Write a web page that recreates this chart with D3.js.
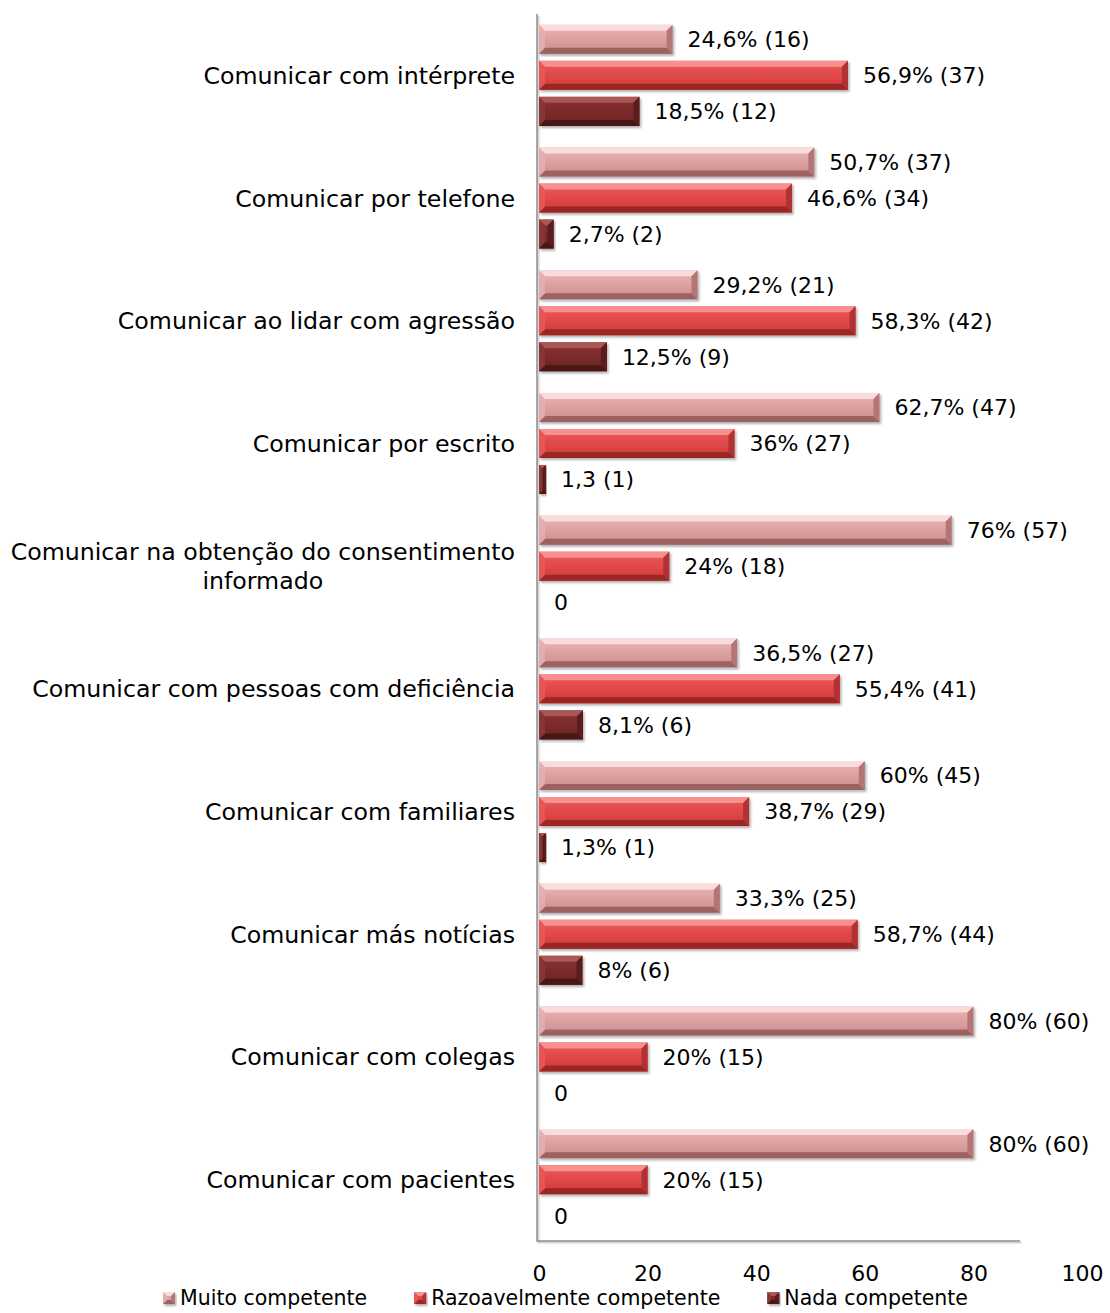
<!DOCTYPE html>
<html>
<head>
<meta charset="utf-8">
<script src="https://cdn.jsdelivr.net/npm/d3@7"></script>
<style>
  body { margin: 0; background: #fff; }
  text { font-family: "DejaVu Sans", sans-serif; fill: #000; }
</style>
</head>
<body>
<svg id="chart" width="1110" height="1313"></svg>
<script>
// categories, top to bottom
const categories = [
  'Comunicar com intérprete',
  'Comunicar por telefone',
  'Comunicar ao lidar com agressão',
  'Comunicar por escrito',
  'Comunicar na obtenção do consentimento|informado',
  'Comunicar com pessoas com deficiência',
  'Comunicar com familiares',
  'Comunicar más notícias',
  'Comunicar com colegas',
  'Comunicar com pacientes'
]
const seriesNames = ['Muito competente', 'Razoavelmente competente', 'Nada competente']

const muito = [24.6, 50.7, 29.2, 62.7, 76, 36.5, 60, 33.3, 80, 80]
const razoavel = [56.9, 46.6, 58.3, 36, 24, 55.4, 38.7, 58.7, 20, 20]
const nada = [18.5, 2.7, 12.5, 1.3, 0, 8.1, 1.3, 8, 0, 0]

const muitoLabels = ['24,6% (16)', '50,7% (37)', '29,2% (21)', '62,7% (47)', '76% (57)', '36,5% (27)', '60% (45)', '33,3% (25)', '80% (60)', '80% (60)']
const razoavelLabels = ['56,9% (37)', '46,6% (34)', '58,3% (42)', '36% (27)', '24% (18)', '55,4% (41)', '38,7% (29)', '58,7% (44)', '20% (15)', '20% (15)']
const nadaLabels = ['18,5% (12)', '2,7% (2)', '12,5% (9)', '1,3 (1)', '0', '8,1% (6)', '1,3% (1)', '8% (6)', '0', '0']

const xTicks = [0, 20, 40, 60, 80, 100]

const values = [muito, razoavel, nada]
const labels = [muitoLabels, razoavelLabels, nadaLabels]

const palettes = [
  { face1: '#ebb6b6', face2: '#cc8c8c', top: '#fadcdc', bottom: '#9c6262', left: '#e6b0b0', right: '#b27676' },
  { face1: '#ee5a5a', face2: '#d23838', top: '#f89090', bottom: '#9a2626', left: '#ea5858', right: '#b03030' },
  { face1: '#883434', face2: '#6c2222', top: '#aa5656', bottom: '#4a1414', left: '#8c3838', right: '#5a1a1a' }
]

const svg = d3.select('#chart')
const plotLeft = 539, plotRight = 1082, plotTop = 14, plotBottom = 1241

const x = d3.scaleLinear().domain([0, 100]).range([plotLeft, plotRight])
const y = d3.scaleBand().domain(d3.range(categories.length)).range([plotTop, plotBottom])
const ySub = d3.scaleBand().domain(d3.range(3)).range([0, y.bandwidth()])
  .paddingInner(7 / 36).paddingOuter(0.3)

const defs = svg.append('defs')
const shadow = defs.append('filter').attr('id', 'shadow')
  .attr('x', '-5%').attr('y', '-20%').attr('width', '115%').attr('height', '160%')
shadow.append('feDropShadow').attr('dx', 1.5).attr('dy', 2).attr('stdDeviation', 1.2)
  .attr('flood-color', '#000').attr('flood-opacity', 0.3)

palettes.forEach((p, i) => {
  const g = defs.append('linearGradient').attr('id', 'face' + i)
    .attr('x1', 0).attr('y1', 0).attr('x2', 0).attr('y2', 1)
  g.append('stop').attr('offset', '0%').attr('stop-color', p.face1)
  g.append('stop').attr('offset', '100%').attr('stop-color', p.face2)
})

// bevelled bar
function bevelBar(sel, x0, y0, w, h, p, i) {
  const b = Math.min(6, w / 2, h / 3)
  const g = sel.append('g').attr('filter', 'url(#shadow)')
  g.append('rect').attr('x', x0).attr('y', y0).attr('width', w).attr('height', h)
    .attr('fill', `url(#face${i})`)
  const x1 = x0 + w, y1 = y0 + h
  g.append('path').attr('fill', p.top)
    .attr('d', `M${x0},${y0}L${x1},${y0}L${x1 - b},${y0 + b}L${x0 + b},${y0 + b}Z`)
  g.append('path').attr('fill', p.bottom)
    .attr('d', `M${x0},${y1}L${x1},${y1}L${x1 - b},${y1 - b}L${x0 + b},${y1 - b}Z`)
  g.append('path').attr('fill', p.left).attr('opacity', 0.8)
    .attr('d', `M${x0},${y0}L${x0 + b},${y0 + b}L${x0 + b},${y1 - b}L${x0},${y1}Z`)
  g.append('path').attr('fill', p.right)
    .attr('d', `M${x1},${y0}L${x1 - b},${y0 + b}L${x1 - b},${y1 - b}L${x1},${y1}Z`)
}

// axis lines (with a soft offset line as shadow)
const axisG = svg.append('g')
const ax = plotLeft - 2
axisG.append('path').attr('fill', 'none').attr('stroke', '#d4d4d4').attr('stroke-width', 2)
  .attr('d', `M${ax + 1.5},${plotTop + 2}V${plotBottom + 1.5}H1021.5`)
axisG.append('path').attr('fill', 'none').attr('stroke', '#8c8c8c').attr('stroke-width', 1.5)
  .attr('d', `M${ax},${plotTop}V${plotBottom}H1020`)

// bars
values.forEach((vals, s) => {
  const layer = svg.append('g').attr('class', 'series' + s)
  vals.forEach((v, c) => {
    const yy = y(c) + ySub(s)
    if (v > 0) bevelBar(layer, x(0), yy, x(v) - x(0), ySub.bandwidth(), palettes[s], s)
    layer.append('text')
      .attr('x', x(v) + 15)
      .attr('y', yy + ySub.bandwidth() / 2)
      .attr('dy', '0.36em')
      .attr('font-size', 22)
      .text(labels[s][c])
  })
})

// x axis labels
const xAxis = d3.axisBottom(x).tickValues(xTicks).tickSize(0).tickPadding(0)
const gx = svg.append('g').attr('transform', `translate(0,${plotBottom + 24})`).call(xAxis)
gx.select('.domain').remove()
gx.selectAll('text').attr('font-size', 22).attr('font-family', '"DejaVu Sans", sans-serif')
  .attr('fill', '#000')

// category labels
const catG = svg.append('g')
categories.forEach((name, c) => {
  const lines = name.split('|')
  const cy = y(c) + y.bandwidth() / 2
  const t = catG.append('text').attr('font-size', 23.7).attr('text-anchor', 'middle')
  lines.forEach((ln, k) => {
    t.append('tspan').attr('x', 0)
      .attr('y', cy + (k - (lines.length - 1) / 2) * 29)
      .attr('dy', '0.36em').text(ln)
  })
  let maxW = 0
  t.selectAll('tspan').each(function () { maxW = Math.max(maxW, this.getComputedTextLength()) })
  t.attr('transform', `translate(${515 - maxW / 2},0)`)
})

// legend
const legend = svg.append('g').attr('transform', 'translate(163,1298)')
let lx = 0
seriesNames.forEach((name, s) => {
  const item = legend.append('g').attr('transform', `translate(${lx},0)`)
  bevelBar(item, 0, -6, 12, 12, palettes[s], s)
  const t = item.append('text').attr('x', 17).attr('dy', '0.36em')
    .attr('font-size', 20.5).text(name)
  lx += 17 + t.node().getComputedTextLength() + 47
})
</script>
</body>
</html>
